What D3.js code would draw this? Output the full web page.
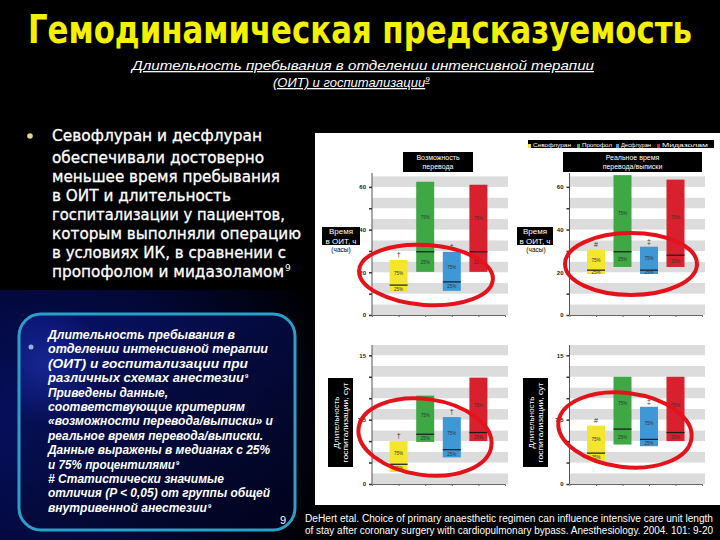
<!DOCTYPE html>
<html>
<head>
<meta charset="utf-8">
<script src="https://cdn.jsdelivr.net/npm/d3@7"></script>
<style>
body{margin:0;background:#000;}
svg{display:block;}
</style>
</head>
<body>
<svg id="slide" width="720" height="540"></svg>
<script>
// groups on the chart
var categories = ["Севофлуран", "Пропофол", "Десфлуран", "Мидазолам"];
var colors = ["#f4e62c", "#3ea845", "#3f98d6", "#d8202f"];

// [25%, median, 75%] per group
var icuPossible = [[10.8, 14, 25.8], [20.2, 29.6, 62.4], [11.3, 15.5, 29.6], [20.2, 29.6, 61]];
var icuActual   = [[19.2, 21, 30.5], [22.5, 29.6, 65.5], [19.2, 21, 32], [22.5, 28, 63.4]];
var hospPossible = [[1.4, 2.3, 5.0], [4.9, 5.8, 10.3], [3.1, 4.0, 7.8], [5.0, 6.0, 12.4]];
var hospActual   = [[2.7, 3.6, 6.8], [4.6, 6.4, 12.5], [4.4, 5.2, 9.0], [5.0, 6.0, 12.5]];

var possibleMarks = ["†", "", "†", ""];
var actualMarks = ["#", "", "‡", ""];

var icuTicks = [0, 20, 40, 60];
var hospTicks = [0, 7.5, 15];

var bulletLines = [
  "Севофлуран и десфлуран",
  " обеспечивали достоверно",
  "меньшее время пребывания",
  "в ОИТ и длительность",
  "госпитализации у пациентов,",
  "которым выполняли операцию",
  "в условиях ИК, в сравнении с",
  "пропофолом и мидазоламом"
];
var boxLines = [
  " Длительность пребывания в",
  "отделении интенсивной терапии",
  "(ОИТ) и госпитализации при",
  "различных схемах анестезии",
  "Приведены данные,",
  "соответствующие критериям",
  "«возможности перевода/выписки» и",
  "реальное время перевода/выписки.",
  "Данные выражены в медианах с 25%",
  "и 75% процентилями",
  "# Статистически значимые",
  "отличия (P < 0,05) от группы общей",
  "внутривенной анестезии"
];
var boxSup = [false, false, false, true, false, false, false, false, false, true, false, false, true];
var refLines = [
  "DeHert  etal. Choice of primary anaesthetic regimen can influence intensive care unit length",
  "of stay after coronary surgery with cardiopulmonary bypass. Anesthesiology. 2004. 101: 9-20"
];

var svg = d3.select("#slide");
var defs = svg.append("defs");

svg.append("rect").attr("width", 720).attr("height", 540).attr("fill", "#000");

// dark blue glow lower left
var glow = defs.append("radialGradient").attr("id", "glow")
  .attr("gradientUnits", "userSpaceOnUse").attr("cx", 40).attr("cy", 420).attr("r", 300);
glow.append("stop").attr("offset", 0).attr("stop-color", "#071060");
glow.append("stop").attr("offset", 0.5).attr("stop-color", "#030838");
glow.append("stop").attr("offset", 1).attr("stop-color", "#000000");
svg.append("rect").attr("x", 0).attr("y", 290).attr("width", 320).attr("height", 250).attr("fill", "url(#glow)");

var boxFill = defs.append("linearGradient").attr("id", "boxFill")
  .attr("x1", 0).attr("y1", 0).attr("x2", 1).attr("y2", 1);
boxFill.append("stop").attr("offset", 0).attr("stop-color", "#081370");
boxFill.append("stop").attr("offset", 0.5).attr("stop-color", "#040a3c");
boxFill.append("stop").attr("offset", 1).attr("stop-color", "#01031a");
var spot = defs.append("radialGradient").attr("id", "spot")
  .attr("gradientUnits", "userSpaceOnUse").attr("cx", 45).attr("cy", 365).attr("r", 60);
spot.append("stop").attr("offset", 0).attr("stop-color", "#2a40d0").attr("stop-opacity", 0.45);
spot.append("stop").attr("offset", 1).attr("stop-color", "#2a40d0").attr("stop-opacity", 0);

svg.append("rect").attr("x", 19).attr("y", 314).attr("width", 276).attr("height", 216).attr("rx", 22)
  .attr("fill", "url(#boxFill)");
svg.append("rect").attr("x", 19).attr("y", 314).attr("width", 276).attr("height", 216).attr("rx", 22)
  .attr("fill", "url(#spot)").attr("stroke", "#2c9fc6").attr("stroke-width", 3);

// title
svg.append("text").attr("x", 360).attr("y", 43).attr("text-anchor", "middle")
  .attr("font-family", "'Liberation Sans Narrow','DejaVu Sans Condensed',sans-serif")
  .attr("font-weight", "bold").attr("font-size", 39).attr("fill", "#f3f000")
  .attr("textLength", 664).attr("lengthAdjust", "spacingAndGlyphs")
  .text("Гемодинамическая предсказуемость");

// subtitle
svg.append("text").attr("x", 132).attr("y", 70)
  .attr("font-family", "'Liberation Sans',sans-serif").attr("font-style", "italic")
  .attr("font-size", 13).attr("fill", "#fff").attr("text-decoration", "underline")
  .attr("textLength", 462).attr("lengthAdjust", "spacingAndGlyphs")
  .text("Длительность пребывания в отделении интенсивной терапии");
var sub2 = svg.append("text").attr("x", 273).attr("y", 87)
  .attr("font-family", "'Liberation Sans',sans-serif").attr("font-style", "italic")
  .attr("font-size", 13).attr("fill", "#fff").attr("text-decoration", "underline");
sub2.append("tspan").text("(ОИТ) и госпитализации");
sub2.append("tspan").attr("font-size", 8).attr("dy", -5).text("9");

// bullet text
svg.append("circle").attr("cx", 30).attr("cy", 136).attr("r", 2.8).attr("fill", "#d9d98f");
var bulletY = [141, 163, 182, 201, 220, 239, 258, 277];
var bulletW = [210, 212, 228, 179, 233, 249, 234, 232];
bulletLines.forEach(function(t, i){
  svg.append("text").attr("x", 52).attr("y", bulletY[i])
    .attr("font-family", "'DejaVu Sans',Verdana,sans-serif").attr("font-size", 15)
    .attr("fill", "#fff").attr("stroke", "#fff").attr("stroke-width", 0.3)
    .attr("textLength", bulletW[i]).attr("lengthAdjust", "spacingAndGlyphs")
    .text(t);
  if (i == bulletLines.length - 1) {
    svg.append("text").attr("x", 52 + bulletW[i] + 1).attr("y", bulletY[i] - 6)
      .attr("font-family", "'DejaVu Sans',sans-serif").attr("font-size", 9).attr("fill", "#fff").text("9");
  }
});

// text in the blue box
svg.append("circle").attr("cx", 31).attr("cy", 347).attr("r", 2.5).attr("fill", "#8fb4da");
var boxW = [187, 220, 200, 196, 120, 197, 225, 215, 222, 127, 176, 222, 159];
boxLines.forEach(function(t, i){
  var y = 339 + i * 14.4;
  svg.append("text").attr("x", 48).attr("y", y)
    .attr("font-family", "'Liberation Sans',Arial,sans-serif").attr("font-size", 12)
    .attr("font-weight", "bold").attr("font-style", "italic").attr("fill", "#fff")
    .attr("textLength", boxW[i]).attr("lengthAdjust", "spacingAndGlyphs")
    .text(t);
  if (boxSup[i]) {
    svg.append("text").attr("x", 48 + boxW[i] + 1).attr("y", y - 4)
      .attr("font-family", "'Liberation Sans',sans-serif").attr("font-size", 6)
      .attr("font-weight", "bold").attr("fill", "#fff").text("9");
  }
});

// page number and reference
svg.append("text").attr("x", 280).attr("y", 524).attr("font-family", "'Liberation Sans',sans-serif")
  .attr("font-size", 11).attr("fill", "#fff").text("9");
refLines.forEach(function(t, i){
  svg.append("text").attr("x", 305).attr("y", 522 + i * 12)
    .attr("font-family", "'Liberation Sans',Arial,sans-serif").attr("font-size", 10)
    .attr("fill", "#fff").attr("textLength", 408).attr("lengthAdjust", "spacingAndGlyphs")
    .text(t);
});

// chart panel
svg.append("rect").attr("x", 315).attr("y", 133).attr("width", 405).attr("height", 372).attr("fill", "#fff");

var panels = [
  {data: icuPossible, marks: possibleMarks, ticks: icuTicks, step: 10, max: 66.5, x0: 372, x1: 505, y0: 315, y1: 173},
  {data: icuActual, marks: actualMarks, ticks: icuTicks, step: 10, max: 66.5, x0: 569.5, x1: 702, y0: 315, y1: 173},
  {data: hospPossible, marks: possibleMarks, ticks: hospTicks, step: 2.5, max: 16.2, x0: 372, x1: 505, y0: 484, y1: 345},
  {data: hospActual, marks: actualMarks, ticks: hospTicks, step: 2.5, max: 16.2, x0: 569.5, x1: 702, y0: 484, y1: 345}
];

function drawPanel(p){
  var g = svg.append("g");
  var x = d3.scaleLinear().domain([0, categories.length + 1]).range([p.x0, p.x1]);
  var y = d3.scaleLinear().domain([0, p.max]).range([p.y0, p.y1]);
  var half = p.step / 2;
  var bands = d3.range(0, p.max, half);

  g.selectAll("rect.band").data(bands).join("rect")
    .attr("class", "band")
    .attr("x", p.x0).attr("width", p.x1 - p.x0 + 3)
    .attr("y", function(d){ return y(Math.min(d + half, p.max)); })
    .attr("height", function(d){ return y(d) - y(Math.min(d + half, p.max)); })
    .attr("fill", function(d, i){ return i % 2 == 0 ? "#dcdcdc" : "#ffffff"; });

  var yAxis = g.append("g")
    .attr("transform", "translate(" + p.x0 + ",0)")
    .call(d3.axisLeft(y)
      .tickValues(d3.range(0, p.max, p.step))
      .tickSize(3)
      .tickFormat(function(d){ return p.ticks.indexOf(d) >= 0 ? d3.format("~g")(d) : ""; }));
  yAxis.select(".domain").attr("stroke", "#555").attr("d", "M0," + p.y0 + "V" + p.y1);
  yAxis.selectAll(".tick line").attr("stroke", "#333").attr("stroke-width", 1.5);
  yAxis.selectAll(".tick text").attr("font-size", 6).attr("font-weight", "bold")
    .attr("font-family", "'Liberation Sans',sans-serif").attr("fill", "#222");

  var xAxis = g.append("g")
    .attr("transform", "translate(0," + p.y0 + ")")
    .call(d3.axisBottom(x).tickValues(d3.range(1, categories.length + 1)).tickSize(2).tickFormat(""));
  xAxis.select(".domain").attr("stroke", "#666");
  xAxis.selectAll(".tick line").attr("stroke", "#666");

  var bw = 18;
  var boxes = g.selectAll("g.box").data(p.data).join("g").attr("class", "box");
  boxes.append("rect")
    .attr("x", function(d, i){ return x(i + 1) - bw / 2; })
    .attr("width", bw)
    .attr("y", function(d){ return y(d[2]); })
    .attr("height", function(d){ return y(d[0]) - y(d[2]); })
    .attr("fill", function(d, i){ return colors[i]; });
  boxes.append("line")
    .attr("x1", function(d, i){ return x(i + 1) - bw / 2; })
    .attr("x2", function(d, i){ return x(i + 1) + bw / 2; })
    .attr("y1", function(d){ return y(d[1]); })
    .attr("y2", function(d){ return y(d[1]); })
    .attr("stroke", "#1a1a1a").attr("stroke-width", 1.2);
  boxes.append("text")
    .attr("x", function(d, i){ return x(i + 1); })
    .attr("y", function(d){ return (y(d[1]) + y(d[2])) / 2 + 2; })
    .attr("text-anchor", "middle").attr("font-size", 4.5).attr("fill", "#333")
    .attr("font-family", "'Liberation Sans',sans-serif").text("75%");
  boxes.append("text")
    .attr("x", function(d, i){ return x(i + 1); })
    .attr("y", function(d){ return (y(d[0]) + y(d[1])) / 2 + 2; })
    .attr("text-anchor", "middle").attr("font-size", 4.5).attr("fill", "#333")
    .attr("font-family", "'Liberation Sans',sans-serif").text("25%");
  boxes.append("text")
    .attr("x", function(d, i){ return x(i + 1); })
    .attr("y", function(d){ return y(d[2]) - 3; })
    .attr("text-anchor", "middle").attr("font-size", 7).attr("fill", "#333")
    .attr("font-family", "'Liberation Sans',sans-serif")
    .text(function(d, i){ return p.marks[i]; });
}
panels.forEach(drawPanel);

// panel titles
function blackLabel(x, y, w, h, lines, size){
  svg.append("rect").attr("x", x).attr("y", y).attr("width", w).attr("height", h).attr("fill", "#000");
  lines.forEach(function(t, i){
    svg.append("text").attr("x", x + w / 2).attr("y", y + h / 2 - (lines.length - 1) * size * 0.6 + i * size * 1.2 + size * 0.35)
      .attr("text-anchor", "middle").attr("font-family", "'Liberation Sans',sans-serif")
      .attr("font-size", size).attr("fill", "#fff").text(t);
  });
}
blackLabel(403, 152, 70, 20, ["Возможность", "перевода"], 7);
blackLabel(563, 152, 139, 20, ["Реальное время", "перевода/выписки"], 7);

// y labels of the ICU charts
[335, 530].forEach(function(cx){
  svg.append("text").attr("x", cx + 6).attr("y", 252).attr("text-anchor", "middle")
    .attr("font-family", "'Liberation Sans',sans-serif").attr("font-size", 6.5).attr("fill", "#000")
    .text("(часы)");
});
blackLabel(322, 227, 38, 18, ["Время", "в ОИТ, ч"], 8);
blackLabel(517, 227, 36, 18, ["Время", "в ОИТ, ч"], 8);

// y labels of the hospital charts (rotated)
[[328, 378], [523, 378]].forEach(function(p){
  svg.append("rect").attr("x", p[0]).attr("y", p[1]).attr("width", 25).attr("height", 89).attr("fill", "#000");
  var g = svg.append("g").attr("transform", "translate(" + (p[0] + 12.5) + "," + (p[1] + 44.5) + ") rotate(-90)");
  g.append("text").attr("x", 0).attr("y", -2).attr("text-anchor", "middle")
    .attr("font-family", "'Liberation Sans',sans-serif").attr("font-size", 8).attr("fill", "#fff").text("Длительность");
  g.append("text").attr("x", 0).attr("y", 7).attr("text-anchor", "middle")
    .attr("font-family", "'Liberation Sans',sans-serif").attr("font-size", 8).attr("fill", "#fff")
    .attr("textLength", 80).attr("lengthAdjust", "spacingAndGlyphs").text("госпитализации, сут");
});

// legend strip
svg.append("rect").attr("x", 528).attr("y", 140).attr("width", 186).attr("height", 8).attr("fill", "#000");
var legX = [528, 577, 616, 657];
var legW = [46, 38, 38, 54];
categories.forEach(function(c, i){
  svg.append("rect").attr("x", legX[i]).attr("y", 144).attr("width", 3).attr("height", 4).attr("fill", colors[i]);
  svg.append("text").attr("x", legX[i] + 5).attr("y", 146.5)
    .attr("font-family", "'Liberation Sans',sans-serif").attr("font-size", 6).attr("fill", "#fff")
    .attr("textLength", legW[i] - 8).attr("lengthAdjust", "spacingAndGlyphs").text(c);
});

// red hand-drawn ellipses
var rings = [[426, 275, 67, 30, 4], [631, 264, 66, 31, 0], [425, 437, 67, 38, 8], [625, 430, 67, 37, 7]];
rings.forEach(function(r){
  svg.append("ellipse").attr("cx", 0).attr("cy", 0).attr("rx", r[2]).attr("ry", r[3])
    .attr("transform", "translate(" + r[0] + "," + r[1] + ") rotate(" + r[4] + ")")
    .attr("fill", "none").attr("stroke", "#e3121b").attr("stroke-width", 4);
});
</script>
</body>
</html>
